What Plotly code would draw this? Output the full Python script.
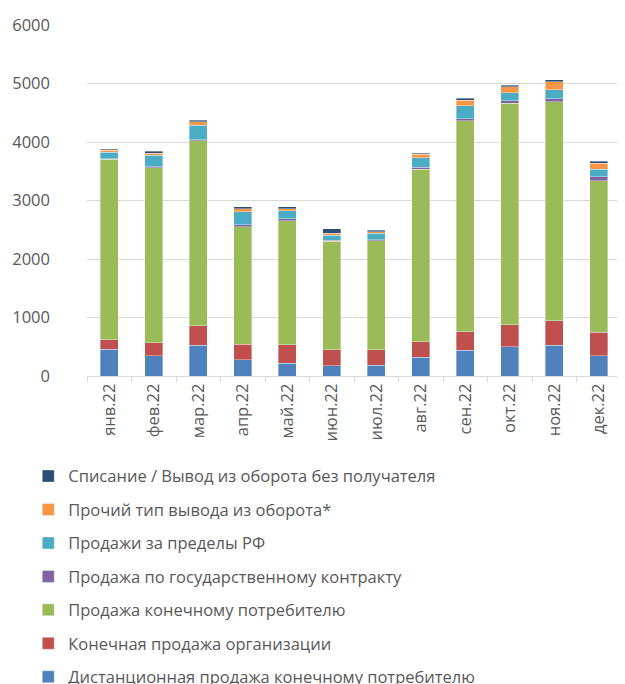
import plotly.graph_objects as go

months = ["янв.22", "фев.22", "мар.22", "апр.22", "май.22", "июн.22",
          "июл.22", "авг.22", "сен.22", "окт.22", "ноя.22", "дек.22"]

remote_sale = [456, 347, 530, 274, 217, 177, 188, 319, 439, 496, 530, 347]
org_sale = [164, 222, 330, 268, 319, 273, 262, 268, 319, 381, 416, 405]
consumer_sale = [3084, 2992, 3162, 2010, 2119, 1852, 1858, 2951, 3607, 3784, 3738, 2586]
gov_contract = [10, 12, 15, 30, 29, 17, 22, 29, 34, 45, 57, 69]
export_sale = [109, 199, 253, 227, 142, 91, 109, 165, 222, 132, 153, 125]
other_out = [40, 40, 57, 46, 29, 29, 28, 57, 97, 108, 137, 102]
write_off = [17, 28, 23, 34, 34, 74, 23, 23, 34, 28, 29, 35]

series = [
    ("Дистанционная продажа конечному потребителю", remote_sale, "#4F81BD"),
    ("Конечная продажа организации", org_sale, "#C0504D"),
    ("Продажа конечному потребителю", consumer_sale, "#9BBB59"),
    ("Продажа по государственному контракту", gov_contract, "#8064A2"),
    ("Продажи за пределы РФ", export_sale, "#4BACC6"),
    ("Прочий тип вывода из оборота*", other_out, "#F79646"),
    ("Списание / Вывод из оборота без получателя", write_off, "#2C4D75"),
]

FONT = "Open Sans, Noto Sans, sans-serif"
GREY = "#595959"
FS = 16.5

fig = go.Figure()
for i, (name, vals, color) in enumerate(series):
    fig.add_trace(go.Bar(
        x=months, y=vals, name=name, legendgroup=f"g{i}", legendrank=100 - i,
        marker=dict(color=color, line=dict(color="rgba(255,255,255,0.6)", width=0.6)),
        width=0.41,
    ))

fig.update_layout(
    width=617, height=676,
    barmode="stack",
    plot_bgcolor="white", paper_bgcolor="white",
    margin=dict(l=79, r=4, t=17, b=308, autoexpand=False),
    font=dict(family=FONT, size=FS, color=GREY),
    showlegend=True,
    legend=dict(
        orientation="v", traceorder="grouped",
        x=-0.110, xanchor="left", y=-0.236, yanchor="top",
        font=dict(family=FONT, size=FS, color=GREY),
        tracegroupgap=9, bgcolor="rgba(0,0,0,0)",
    ),
)
fig.update_yaxes(
    range=[0, 6000], dtick=1000, showgrid=True, gridcolor="#d9d9d9", gridwidth=1,
    zeroline=False, showline=False, ticks="", tickfont=dict(size=FS, color=GREY),
    ticklabelstandoff=36,
)
fig.update_xaxes(
    type="category", showline=True, linecolor="#d9d9d9", linewidth=1,
    ticks="outside", tickson="boundaries", ticklen=5, tickcolor="#d9d9d9",
    tickangle=-90, tickfont=dict(size=FS, color=GREY), showgrid=False,
)

fig.write_html("out.html")
